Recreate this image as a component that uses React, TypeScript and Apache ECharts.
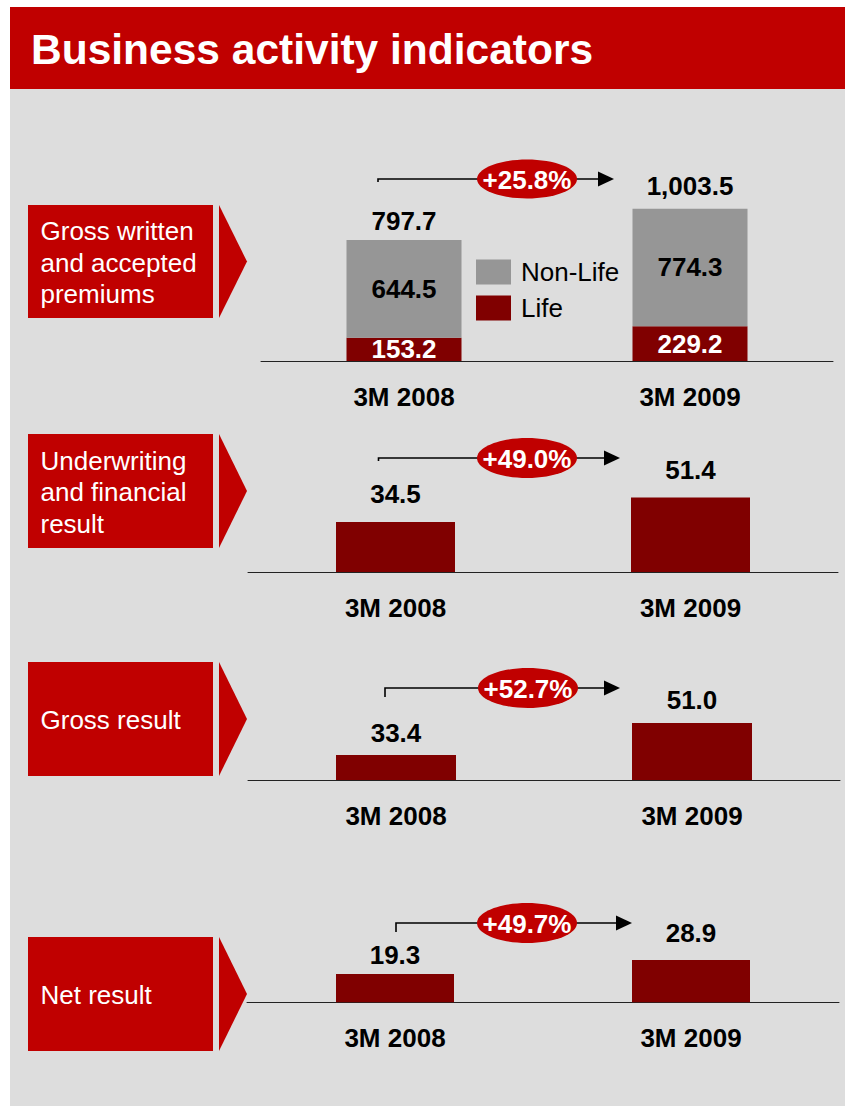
import React, { useEffect, useRef } from "react";
import * as echarts from "echarts";

// ---- data ----
const periods = ["3M 2008", "3M 2009"];
const lifePremiums = [153.2, 229.2];
const nonLifePremiums = [644.5, 774.3];
const totalPremiums = [797.7, 1003.5];
const underwritingResult = [34.5, 51.4];
const grossResult = [33.4, 51.0];
const netResult = [19.3, 28.9];
const panelTitles = [
  "Gross written\nand accepted\npremiums",
  "Underwriting\nand financial\nresult",
  "Gross result",
  "Net result",
];
const legendNames = ["Non-Life", "Life"];
const pageTitle = "Business activity indicators";

// ---- layout / style ----
const FONT = '"Liberation Sans", Arial, Helvetica, sans-serif';
const RED = "#C00000";
const DARK_RED = "#800000";
const GRAY_BAR = "#969696";
const BG = "#DDDDDD";
const FS = 26;

const panels = [
  { grid: { left: 261, top: 194, width: 572, height: 167 }, yMin: 0, yMax: 1100, barWidth: 115,
    box: { top: 205, height: 113 }, arrow: { x0: 378, stubY: 182, y: 179, tip: 614, cx: 527, ry: 19.5 }, gaps: [6.3, 9.3] },
  { grid: { left: 248, top: 485, width: 590, height: 87 }, yMin: 0, yMax: 60, barWidth: 119,
    box: { top: 434, height: 114 }, arrow: { x0: 378.5, stubY: 461, y: 458, tip: 620, cx: 527, ry: 20 }, gaps: [15, 14.7] },
  { grid: { left: 248, top: 700, width: 592, height: 80 }, yMin: 19.6, yMax: 63.6, barWidth: 120,
    box: { top: 662, height: 114 }, arrow: { x0: 385, stubY: 697, y: 688, tip: 620, cx: 528, ry: 20 }, gaps: [8.7, 9.7] },
  { grid: { left: 247, top: 943.7, width: 592, height: 58.6 }, yMin: 0, yMax: 40, barWidth: 118,
    box: { top: 937, height: 114 }, arrow: { x0: 396, stubY: 932, y: 923, tip: 632, cx: 527, ry: 20 }, gaps: [6, 13.7] },
];

const fmt1 = (v: number) =>
  v.toLocaleString("en-US", { minimumFractionDigits: 1, maximumFractionDigits: 1 });
const growth = (a: number[]) => `+${((a[1] / a[0] - 1) * 100).toFixed(1)}%`;

export default function App() {
  const ref = useRef<HTMLDivElement>(null);

  useEffect(() => {
    document.body.style.margin = "0";
    if (!ref.current) return;
    const chart = echarts.init(ref.current, undefined, { renderer: "svg" });

    const valueLabel = {
      show: true,
      position: "top",
      color: "#000",
      fontSize: FS,
      fontWeight: "bold",
      fontFamily: FONT,
      formatter: (p: any) => fmt1(p.value),
    };

    const seriesSets = [totalPremiums, underwritingResult, grossResult, netResult];

    const grids = panels.map((p) => ({ ...p.grid }));
    const xAxes = panels.map((_, i) => ({
      type: "category",
      gridIndex: i,
      data: periods,
      axisTick: { show: false },
      axisLine: { show: true, lineStyle: { color: "#222", width: 1 } },
      axisLabel: { fontSize: FS, fontWeight: "bold", color: "#000", margin: 23, fontFamily: FONT },
    }));
    const yAxes = panels.map((p, i) => ({
      type: "value",
      gridIndex: i,
      show: false,
      min: p.yMin,
      max: p.yMax,
      splitLine: { show: false },
    }));

    const series: any[] = [
      {
        name: "Life", type: "bar", stack: "gwp", xAxisIndex: 0, yAxisIndex: 0,
        data: lifePremiums, barWidth: panels[0].barWidth,
        itemStyle: { color: DARK_RED },
        label: { show: true, position: "inside", color: "#fff", fontSize: FS, fontWeight: "bold", fontFamily: FONT,
          formatter: (p: any) => fmt1(p.value) },
      },
      {
        name: "Non-Life", type: "bar", stack: "gwp", xAxisIndex: 0, yAxisIndex: 0,
        data: nonLifePremiums, barWidth: panels[0].barWidth,
        itemStyle: { color: GRAY_BAR },
        label: { show: true, position: "inside", color: "#000", fontSize: FS, fontWeight: "bold", fontFamily: FONT,
          formatter: (p: any) => fmt1(p.value) },
      },
      {
        name: "Total", type: "bar", xAxisIndex: 0, yAxisIndex: 0, barGap: "-100%",
        barWidth: panels[0].barWidth,
        data: totalPremiums.map((v, j) => ({ value: v, label: { distance: panels[0].gaps[j] } })),
        itemStyle: { color: "rgba(0,0,0,0)" },
        label: valueLabel,
        z: 5,
      },
    ];
    [underwritingResult, grossResult, netResult].forEach((vals, k) => {
      const i = k + 1;
      series.push({
        name: panelTitles[i], type: "bar", xAxisIndex: i, yAxisIndex: i,
        barWidth: panels[i].barWidth,
        data: vals.map((v, j) => ({ value: v, label: { distance: panels[i].gaps[j] } })),
        itemStyle: { color: DARK_RED },
        label: valueLabel,
      });
    });

    const graphics: any[] = [
      { type: "rect", z: -10, shape: { x: 10, y: 89, width: 835, height: 1017 }, style: { fill: BG } },
      { type: "rect", z: -10, shape: { x: 10, y: 7, width: 835, height: 82 }, style: { fill: RED } },
      { type: "text", x: 31, y: 49, style: { text: pageTitle, fill: "#fff", font: `bold 42.5px ${FONT}`,
        align: "left", verticalAlign: "middle" } },
    ];
    panels.forEach((p, i) => {
      const b = p.box;
      const mid = b.top + b.height / 2;
      graphics.push(
        { type: "rect", shape: { x: 28, y: b.top, width: 185, height: b.height }, style: { fill: RED } },
        { type: "polygon", shape: { points: [[219, b.top], [247, mid], [219, b.top + b.height]] }, style: { fill: RED } },
        { type: "text", x: 40.5, y: mid + 1, style: { text: panelTitles[i], fill: "#fff", font: `${FS}px ${FONT}`,
          lineHeight: 31.5, align: "left", verticalAlign: "middle" } },
      );
      const a = p.arrow;
      graphics.push(
        { type: "polyline", shape: { points: [[a.x0, a.stubY], [a.x0, a.y], [a.tip - 12, a.y]] },
          style: { stroke: "#000", lineWidth: 1.6, fill: null } },
        { type: "polygon", shape: { points: [[a.tip - 16, a.y - 7.5], [a.tip, a.y], [a.tip - 16, a.y + 7.5]] },
          style: { fill: "#000" } },
        { type: "ellipse", shape: { cx: a.cx, cy: a.y, rx: 50, ry: a.ry }, style: { fill: RED } },
        { type: "text", x: a.cx, y: a.y + 1, style: { text: growth(seriesSets[i]), fill: "#fff",
          font: `bold ${FS}px ${FONT}`, align: "center", verticalAlign: "middle" } },
      );
    });

    chart.setOption({
      animation: false,
      backgroundColor: "#fff",
      textStyle: { fontFamily: FONT },
      legend: {
        data: legendNames,
        orient: "vertical",
        left: 476,
        top: 259,
        padding: 0,
        itemWidth: 35,
        itemHeight: 25,
        itemGap: 10,
        icon: "rect",
        selectedMode: false,
        textStyle: { fontSize: FS, color: "#000", fontFamily: FONT, padding: [0, 0, 0, 5] },
      },
      grid: grids,
      xAxis: xAxes,
      yAxis: yAxes,
      series,
      graphic: graphics,
    });

    return () => chart.dispose();
  }, []);

  return (
    <div
      ref={ref}
      style={{ position: "absolute", left: 0, top: 0, width: 845, height: 1106 }}
    />
  );
}
